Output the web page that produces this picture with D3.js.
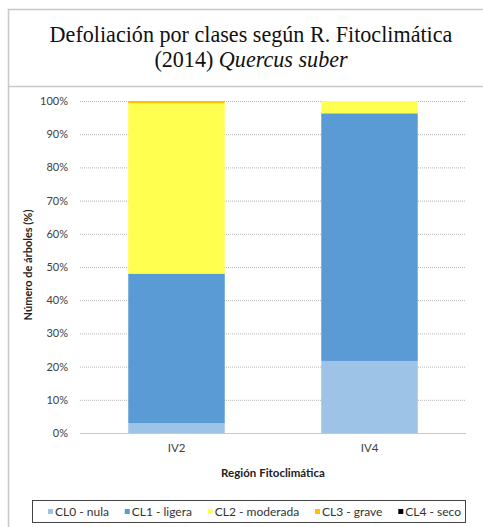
<!DOCTYPE html>
<html><head><meta charset="utf-8">
<script src="https://cdn.jsdelivr.net/npm/d3@7"></script>
<style>body{margin:0;background:#fff}svg{display:block}</style>
</head><body>
<script>
const categories = ["IV2", "IV4"];
const seriesNames = ["CL0 - nula", "CL1 - ligera", "CL2 - moderada", "CL3 - grave", "CL4 - seco"];
const cl0 = [3.0, 21.7];
const cl1 = [45.0, 74.6];
const cl2 = [51.3, 3.7];
const cl3 = [0.7, 0.0];
const cl4 = [0.0, 0.0];
const yTicks = [0, 10, 20, 30, 40, 50, 60, 70, 80, 90, 100];
const colors = ["#9dc3e6", "#5b9bd5", "#ffff4f", "#ffc000", "#000000"];

const W = 483, H = 527;
const svg = d3.select("body").append("svg").attr("width", W).attr("height", H);

// frames
svg.append("rect").attr("x", 8.5).attr("y", 9.5).attr("width", 490).attr("height", 540)
  .attr("fill", "none").attr("stroke", "#c8c8c8").attr("stroke-width", 1.5);
svg.append("line").attr("x1", 8).attr("x2", W).attr("y1", 86.5).attr("y2", 86.5)
  .attr("stroke", "#c8c8c8").attr("stroke-width", 1.5);

// title
const t1 = svg.append("text").attr("x", 251).attr("y", 42).attr("text-anchor", "middle")
  .attr("font-family", "Liberation Serif").attr("font-size", 18).attr("fill", "#111")
  .text("Defoliación por clases según R. Fitoclimática");
const len = t1.node().getComputedTextLength();
const fs = 18 * 403 / len;
t1.attr("font-size", fs);
const t2 = svg.append("text").attr("x", 251).attr("y", 67).attr("text-anchor", "middle")
  .attr("font-family", "Liberation Serif").attr("font-size", fs).attr("fill", "#111");
t2.append("tspan").text("(2014) ");
t2.append("tspan").attr("font-style", "italic").text("Quercus suber");

// scales
const x = d3.scaleBand().domain(categories).range([80, 466]).paddingInner(0.5).paddingOuter(0.25);
const y = d3.scaleLinear().domain([0, 100]).range([433, 101]);

// grid
svg.append("g").selectAll("line").data(yTicks.filter(d => d > 0)).join("line")
  .attr("x1", 80).attr("x2", 466).attr("y1", d => y(d) + 0.5).attr("y2", d => y(d) + 0.5)
  .attr("stroke", "#b5b5b5").attr("stroke-dasharray", "1,1");

// stacked bars
const table = categories.map((c, i) => ({cat: c, s0: cl0[i], s1: cl1[i], s2: cl2[i], s3: cl3[i], s4: cl4[i]}));
const stack = d3.stack().keys(["s0", "s1", "s2", "s3", "s4"])(table);
svg.append("g").selectAll("g").data(stack).join("g").attr("fill", (d, i) => colors[i])
  .selectAll("rect").data(d => d).join("rect")
  .attr("x", d => x(d.data.cat)).attr("width", x.bandwidth())
  .attr("y", d => y(d[1])).attr("height", d => Math.max(0, y(d[0]) - y(d[1])));

// x axis line
svg.append("line").attr("x1", 80).attr("x2", 466).attr("y1", 433.5).attr("y2", 433.5)
  .attr("stroke", "#c8c8c8").attr("stroke-width", 1);

// y axis
const yAxis = d3.axisLeft(y).tickValues(yTicks).tickFormat(d => d + "%").tickSize(0).tickPadding(0);
const gy = svg.append("g").attr("transform", "translate(68,0)").call(yAxis);
gy.select(".domain").remove();
gy.selectAll("text").attr("font-family", "Lato").attr("font-size", 11).attr("fill", "#404040");

// x axis labels
const xAxis = d3.axisBottom(x).tickSize(0).tickPadding(0);
const gx = svg.append("g").attr("transform", "translate(0,444)").call(xAxis);
gx.select(".domain").remove();
gx.selectAll("text").attr("font-family", "Lato").attr("font-size", 11.5).attr("fill", "#404040");

// axis titles
svg.append("text").attr("transform", "translate(32,265) rotate(-90)").attr("text-anchor", "middle")
  .attr("font-family", "Lato").attr("font-weight", "bold").attr("font-size", 11).attr("fill", "#222")
  .text("Número de árboles (%)");
svg.append("text").attr("x", 273).attr("y", 477).attr("text-anchor", "middle")
  .attr("font-family", "Lato").attr("font-weight", "bold").attr("font-size", 11.5).attr("fill", "#222")
  .text("Región Fitoclimática");

// legend
svg.append("rect").attr("x", 32.5).attr("y", 500.5).attr("width", 433).attr("height", 22)
  .attr("fill", "#fff").attr("stroke", "#444").attr("stroke-width", 1);
const lg = svg.append("g").selectAll("g").data(seriesNames).join("g");
lg.append("rect").attr("x", 0).attr("y", -2.5).attr("width", 5).attr("height", 5).attr("fill", (d, i) => colors[i]);
lg.append("text").attr("x", 7).attr("y", 4.5).attr("font-family", "Lato").attr("font-size", 12)
  .attr("fill", "#333").text(d => d);
const widths = lg.nodes().map(n => 7 + n.querySelector("text").getComputedTextLength());
const startX = 48, endX = 461;
const gap = (endX - startX - d3.sum(widths)) / (widths.length - 1);
let cx = startX;
lg.each(function(d, i) {
  d3.select(this).attr("transform", `translate(${cx},511.5)`);
  cx += widths[i] + gap;
});
</script>
</body></html>
